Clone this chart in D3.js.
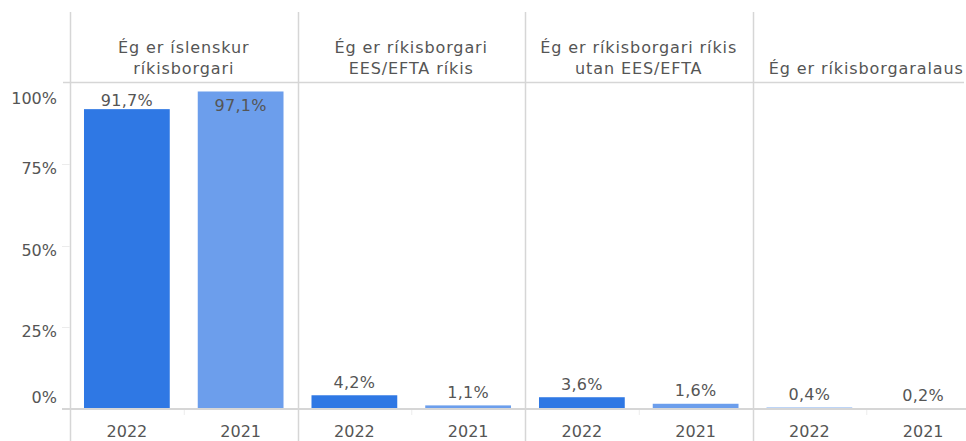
<!DOCTYPE html>
<html>
<head>
<meta charset="utf-8">
<script src="https://cdn.jsdelivr.net/npm/d3@7"></script>
<style>
  html, body { margin: 0; padding: 0; background: #fff; }
  svg { display: block; }
  text { font-family: "DejaVu Sans", sans-serif; fill: #555; }
</style>
</head>
<body>
<svg id="chart" width="966" height="441"></svg>
<script>
// Citizenship categories (panel headers, split into lines)
const categories = [
  "Ég er íslenskur ríkisborgari",
  "Ég er ríkisborgari EES/EFTA ríkis",
  "Ég er ríkisborgari ríkis utan EES/EFTA",
  "Ég er ríkisborgaralaus"
];
const headerLines = [
  ["Ég er íslenskur", "ríkisborgari"],
  ["Ég er ríkisborgari", "EES/EFTA ríkis"],
  ["Ég er ríkisborgari ríkis", "utan EES/EFTA"],
  ["Ég er ríkisborgaralaus"]
];
const years = ["2022", "2021"];
const values2022 = [91.7, 4.2, 3.6, 0.4];
const values2021 = [97.1, 1.1, 1.6, 0.2];
const yTicks = [0, 25, 50, 75, 100];

const colors = { "2022": "#2f78e4", "2021": "#6c9eec" };
const lineColor = "#d6d6d6";

const rows = categories.map((c, i) => ({
  category: c,
  header: headerLines[i],
  bars: [
    { year: "2022", value: values2022[i] },
    { year: "2021", value: values2021[i] }
  ]
}));

const svg = d3.select("#chart");
const plotLeft = 70, plotTop = 82, plotBottom = 409, rightEdge = 964;

const x0 = d3.scaleBand().domain(categories).range([plotLeft, plotLeft + 4 * 227.5]);
const x1 = d3.scaleBand().domain(years).range([0, x0.bandwidth()])
  .paddingInner(0.246).paddingOuter(0.123);
const y = d3.scaleLinear().domain([0, 100]).range([plotBottom, plotTop]);

const fmt = v => d3.format(".1f")(v).replace(".", ",") + "%";

// Panel dividers and left axis line
svg.selectAll("line.divider")
  .data(categories)
  .join("line")
  .attr("class", "divider")
  .attr("x1", d => Math.round(x0(d)) + 0.5)
  .attr("x2", d => Math.round(x0(d)) + 0.5)
  .attr("y1", 12).attr("y2", 441)
  .attr("stroke", lineColor).attr("stroke-width", 1.5);

// Y axis: faint tick marks and labels
const yAxis = svg.append("g");
yAxis.selectAll("line")
  .data(yTicks.filter(t => t > 0 && t < 100))
  .join("line")
  .attr("x1", plotLeft - 8).attr("x2", plotLeft)
  .attr("y1", d => Math.round(y(d)) + 0.5)
  .attr("y2", d => Math.round(y(d)) + 0.5)
  .attr("stroke", "#ececec");
yAxis.selectAll("text")
  .data(yTicks)
  .join("text")
  .attr("x", 57)
  .attr("y", d => y(d) + (d === 100 ? 22 : d === 0 ? -6 : 10))
  .attr("text-anchor", "end")
  .attr("font-size", 16)
  .text(d => d + "%");

// Panels
const panel = svg.selectAll("g.panel")
  .data(rows)
  .join("g")
  .attr("class", "panel")
  .attr("transform", d => `translate(${x0(d.category)},0)`);

// Headers, bottom-aligned over the plot
panel.each(function (d) {
  const g = d3.select(this);
  const n = d.header.length;
  d.header.forEach((line, j) => {
    g.append("text")
      .attr("x", x0.bandwidth() / 2)
      .attr("y", 74 - (n - 1 - j) * 21)
      .attr("text-anchor", "middle")
      .attr("font-size", 16)
      .attr("letter-spacing", 0.9)
      .text(line);
  });
});

// Bars
panel.selectAll("rect")
  .data(d => d.bars)
  .join("rect")
  .attr("x", d => x1(d.year))
  .attr("width", x1.bandwidth())
  .attr("y", d => y(d.value))
  .attr("height", d => plotBottom - y(d.value))
  .attr("fill", d => colors[d.year]);

// Value labels: above the bar, or inside it when there is no room
panel.selectAll("text.value")
  .data(d => d.bars)
  .join("text")
  .attr("class", "value")
  .attr("x", d => x1(d.year) + x1.bandwidth() / 2)
  .attr("y", d => {
    const top = y(d.value);
    const above = Math.max(top - 7.5, plotTop + 24);
    return above > top - 2 ? top + 20 : above;
  })
  .attr("text-anchor", "middle")
  .attr("font-size", 16)
  .attr("letter-spacing", 0.3)
  .text(d => fmt(d.value));

// X axis: faint tick between years and year labels
panel.append("line")
  .attr("x1", x0.bandwidth() / 2 + 0.5).attr("x2", x0.bandwidth() / 2 + 0.5)
  .attr("y1", plotBottom + 1).attr("y2", plotBottom + 6)
  .attr("stroke", "#ececec");
panel.selectAll("text.year")
  .data(d => d.bars)
  .join("text")
  .attr("class", "year")
  .attr("x", d => x1(d.year) + x1.bandwidth() / 2)
  .attr("y", 437)
  .attr("text-anchor", "middle")
  .attr("font-size", 16)
  .text(d => d.year);

// Header rule and baseline drawn over the bars
svg.append("line")
  .attr("x1", plotLeft - 7).attr("x2", rightEdge)
  .attr("y1", plotTop + 0.5).attr("y2", plotTop + 0.5)
  .attr("stroke", lineColor).attr("stroke-width", 1.5);
svg.append("line")
  .attr("x1", plotLeft - 8).attr("x2", rightEdge + 2)
  .attr("y1", plotBottom).attr("y2", plotBottom)
  .attr("stroke", lineColor).attr("stroke-width", 2);
</script>
</body>
</html>
